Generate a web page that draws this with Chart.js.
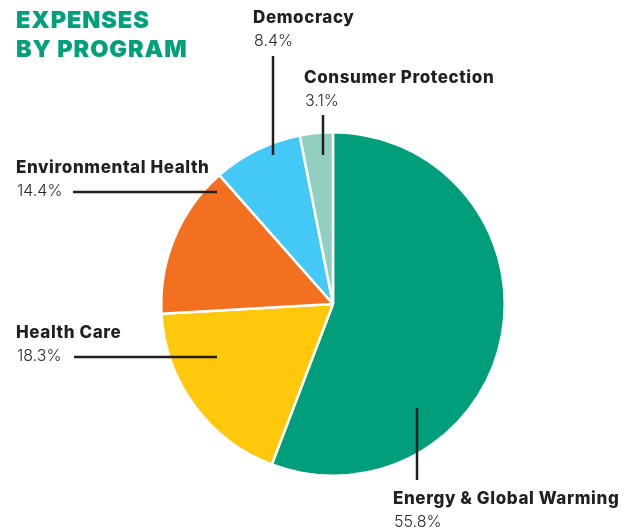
<!DOCTYPE html>
<html>
<head>
<meta charset="utf-8">
<script src="https://cdn.jsdelivr.net/npm/chart.js@4.4.0/dist/chart.umd.min.js"></script>
<style>
  html, body { margin: 0; padding: 0; background: #fff; }
  #wrap { position: relative; width: 634px; height: 529px; }
  h1 {
    position: absolute; left: 16px; top: 6px; margin: 0;
    font-family: Inter, "Noto Sans", sans-serif; font-weight: 900;
    font-size: 23.5px; line-height: 28.5px; color: #00a07a; letter-spacing: 0.9px;
  }
</style>
</head>
<body>
<div id="wrap">
  <h1>EXPENSES<br>BY PROGRAM</h1>
  <canvas id="programChart" width="634" height="529"></canvas>
</div>
<script>
// Programas e percentuais (sentido horário a partir do topo)
const programas = ['Energy & Global Warming', 'Health Care', 'Environmental Health', 'Democracy', 'Consumer Protection'];
const percentuais = [55.8, 18.3, 14.4, 8.4, 3.1];
const cores = ['#009e7a', '#ffc80b', '#f37021', '#44c8f5', '#93cfc0'];

// Posição dos rótulos e das linhas-guia de cada fatia
const rotulos = [
  { x: 393, y: 499, line: [417, 408, 417, 480] },
  { x: 16,  y: 333, line: [74, 357, 217, 357] },
  { x: 16,  y: 168, line: [73, 192, 217, 192] },
  { x: 253, y: 18,  line: [273, 56, 273, 155] },
  { x: 304, y: 78,  line: [323, 115, 323, 155] }
];

const rotulosPlugin = {
  id: 'rotulos',
  afterDraw(chart) {
    const ctx = chart.ctx;
    ctx.save();
    rotulos.forEach((r, i) => {
      ctx.strokeStyle = '#231f20';
      ctx.lineWidth = 2.5;
      ctx.beginPath();
      ctx.moveTo(r.line[0], r.line[1]);
      ctx.lineTo(r.line[2], r.line[3]);
      ctx.stroke();

      ctx.fillStyle = '#231f20';
      ctx.textBaseline = 'middle';
      ctx.textAlign = 'left';
      ctx.font = '800 17px Inter, "Noto Sans", sans-serif';
      ctx.letterSpacing = '0.6px';
      ctx.fillText(programas[i], r.x, r.y);
      ctx.fillStyle = '#2a2a2a';
      ctx.font = '300 16px Inter, "Noto Sans", sans-serif';
      ctx.letterSpacing = '0px';
      ctx.fillText(percentuais[i].toFixed(1) + '%', r.x + 1, r.y + 23);
    });
    ctx.restore();
  }
};

const ctx = document.getElementById('programChart').getContext('2d');
new Chart(ctx, {
  type: 'pie',
  data: {
    labels: programas,
    datasets: [{
      data: percentuais,
      backgroundColor: cores,
      borderColor: '#fff',
      borderWidth: 2.5
    }]
  },
  options: {
    responsive: false,
    animation: false,
    layout: { padding: { left: 160, right: 128, top: 131, bottom: 52 } },
    plugins: {
      legend: { display: false },
      tooltip: { enabled: false }
    }
  },
  plugins: [rotulosPlugin]
});
</script>
</body>
</html>
